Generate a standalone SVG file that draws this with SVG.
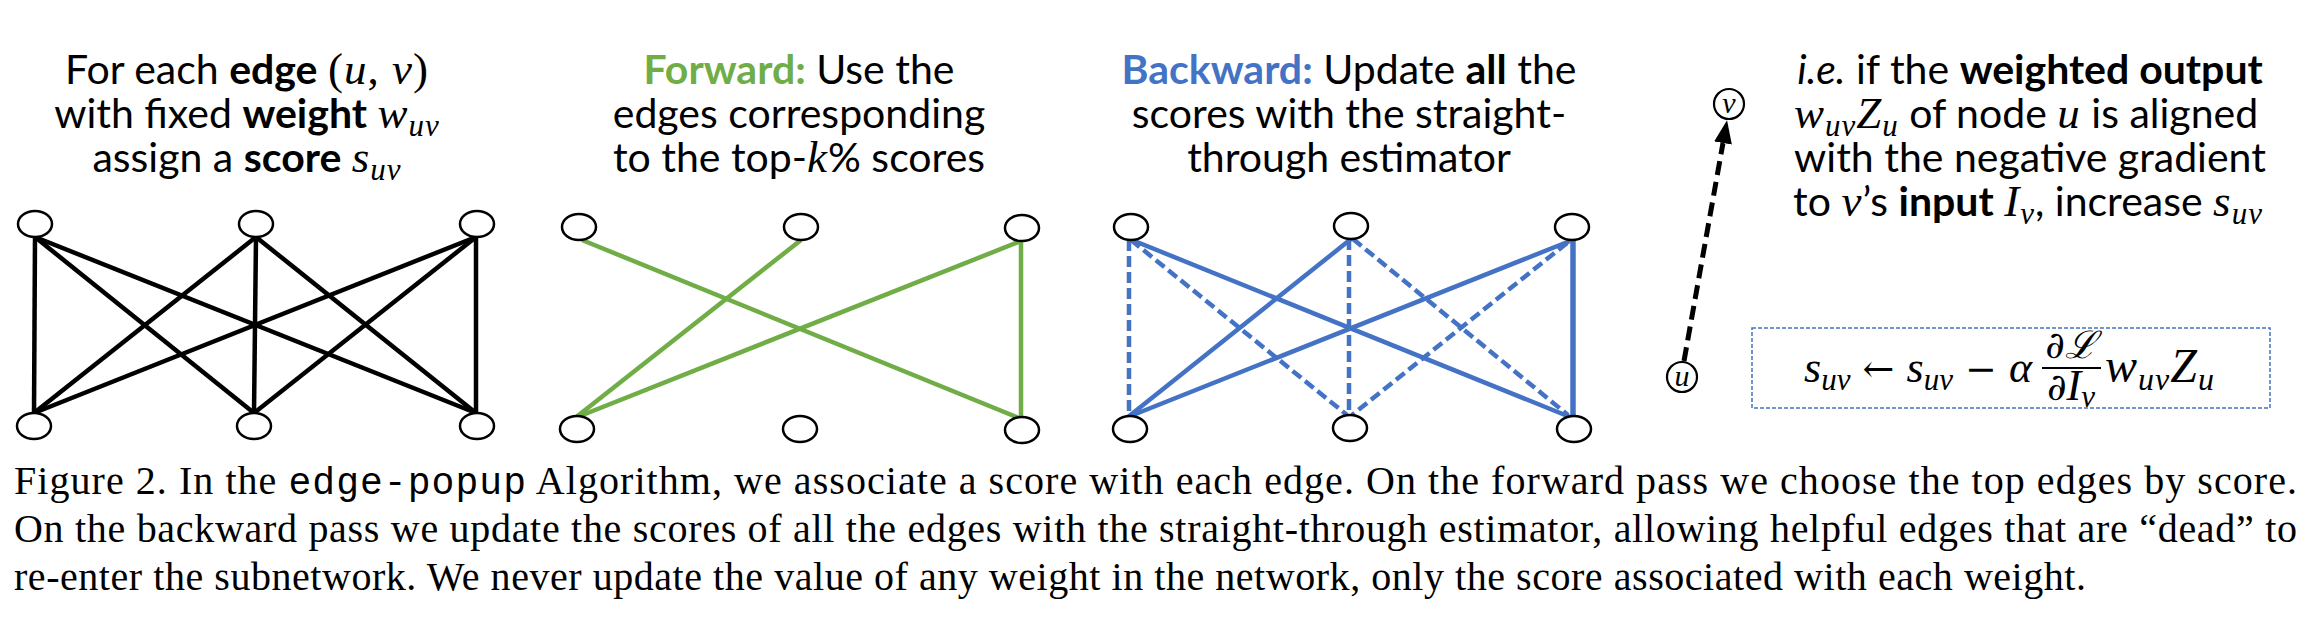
<svg xmlns="http://www.w3.org/2000/svg" width="2318" height="630" viewBox="0 0 2318 630">
<style>
.t{font-family:Lato,"Open Sans",sans-serif;font-size:41px;text-anchor:middle;fill:#000}
.b{font-weight:bold}
.i{font-style:italic}
.m{font-family:"Liberation Serif","DejaVu Serif",serif;font-style:italic;font-size:45px;letter-spacing:1px}
.up{font-style:normal}
.sub{font-size:31px}
.n{fill:#fff;stroke:#000;stroke-width:2.5}
.k{stroke:#000;stroke-width:4.5;fill:none}
.g{stroke:#70AD47;stroke-width:4.5;fill:none}
.bl{stroke:#4472C4;stroke-width:4.5;fill:none}
.d{stroke-dasharray:11 5}
.cap{font-family:"Liberation Serif","Times New Roman",serif;font-size:40px;fill:#000}
.mono{font-family:"Liberation Mono","DejaVu Sans Mono",monospace;font-size:38px}
.f{font-family:"Liberation Serif","DejaVu Serif",serif;font-style:italic;font-size:44px;fill:#000}
.fu{font-family:"DejaVu Serif","Liberation Serif",serif;font-style:normal;font-size:38px}
.nl{font-family:"Liberation Serif","DejaVu Serif",serif;font-style:italic;font-size:30px;text-anchor:middle;fill:#000}
</style>
<defs>
<marker id="ah" markerUnits="userSpaceOnUse" viewBox="0 -10 24 20" refX="0" refY="0" markerWidth="24" markerHeight="20" orient="auto">
<path d="M0,-9 L23,0 L0,9 Z" fill="#000"/>
</marker>
</defs>
<rect width="2318" height="630" fill="#fff"/>

<g id="connectors">
<!-- panel 1 -->
<line class="k" x1="35" y1="237" x2="34" y2="413"/>
<line class="k" x1="35" y1="237" x2="254" y2="413"/>
<line class="k" x1="35" y1="237" x2="476" y2="413"/>
<line class="k" x1="256" y1="237" x2="34" y2="413"/>
<line class="k" x1="256" y1="237" x2="254" y2="413"/>
<line class="k" x1="256" y1="237" x2="476" y2="413"/>
<line class="k" x1="476" y1="237" x2="34" y2="413"/>
<line class="k" x1="476" y1="237" x2="254" y2="413"/>
<line class="k" x1="476" y1="237" x2="476" y2="413"/>
<!-- panel 2 -->
<line class="g" x1="582" y1="240" x2="1019" y2="418"/>
<line class="g" x1="801" y1="240" x2="575" y2="418"/>
<line class="g" x1="1021" y1="241" x2="575" y2="418"/>
<line class="g" x1="1021" y1="241" x2="1021" y2="418"/>
<!-- panel 3 -->
<line class="bl" x1="1132" y1="240" x2="1570" y2="417"/>
<line class="bl" x1="1351" y1="239" x2="1128" y2="417"/>
<line class="bl" x1="1570" y1="241" x2="1128" y2="417"/>
<line class="bl" x1="1573" y1="241" x2="1573" y2="417" style="stroke-width:5.5"/>
<line class="bl d" x1="1129" y1="240" x2="1129" y2="416"/>
<line class="bl d" x1="1131" y1="240" x2="1347" y2="415"/>
<line class="bl d" x1="1349" y1="239" x2="1349" y2="415"/>
<line class="bl d" x1="1353" y1="239" x2="1568" y2="415"/>
<line class="bl d" x1="1567" y1="243" x2="1352" y2="415"/>
<!-- panel 4 arrow u -> v -->
<line x1="1684" y1="361" x2="1723" y2="143" stroke="#000" stroke-width="5" stroke-dasharray="14 7" marker-end="url(#ah)"/>
</g>

<g id="panel1-nodes">
<ellipse class="n" cx="35" cy="224" rx="17" ry="13"/>
<ellipse class="n" cx="256" cy="224" rx="17" ry="13"/>
<ellipse class="n" cx="477" cy="224" rx="17" ry="13"/>
<ellipse class="n" cx="34" cy="426" rx="17" ry="13"/>
<ellipse class="n" cx="254" cy="426" rx="17" ry="13"/>
<ellipse class="n" cx="477" cy="426" rx="17" ry="13"/>
</g>
<g id="panel2-nodes">
<ellipse class="n" cx="579" cy="227" rx="17" ry="13"/>
<ellipse class="n" cx="801" cy="227" rx="17" ry="13"/>
<ellipse class="n" cx="1022" cy="228" rx="17" ry="13"/>
<ellipse class="n" cx="577" cy="429" rx="17" ry="13"/>
<ellipse class="n" cx="800" cy="429" rx="17" ry="13"/>
<ellipse class="n" cx="1022" cy="430" rx="17" ry="13"/>
</g>
<g id="panel3-nodes">
<ellipse class="n" cx="1131" cy="227" rx="17" ry="13"/>
<ellipse class="n" cx="1351" cy="226" rx="17" ry="13"/>
<ellipse class="n" cx="1572" cy="227" rx="17" ry="13"/>
<ellipse class="n" cx="1130" cy="429" rx="17" ry="13"/>
<ellipse class="n" cx="1350" cy="428" rx="17" ry="13"/>
<ellipse class="n" cx="1574" cy="429" rx="17" ry="13"/>
</g>
<g id="node-v">
<circle cx="1729" cy="104" r="15" fill="#fff" stroke="#000" stroke-width="2.2"/>
<text x="1729" y="113" class="nl">v</text>
</g>
<g id="node-u">
<circle cx="1682" cy="377" r="15" fill="#fff" stroke="#000" stroke-width="2.2"/>
<text x="1682" y="386" class="nl">u</text>
</g>

<g id="text-panel1">
<text class="t" x="247" y="84">For each <tspan class="b">edge</tspan> <tspan class="m up">(</tspan><tspan class="m">u</tspan><tspan class="m up">, </tspan><tspan class="m">v</tspan><tspan class="m up">)</tspan></text>
<text class="t" x="247" y="128">with fixed <tspan class="b">weight</tspan> <tspan class="m">w</tspan><tspan class="m sub" dy="8">uv</tspan></text>
<text class="t" x="247" y="172">assign a <tspan class="b">score</tspan> <tspan class="m">s</tspan><tspan class="m sub" dy="8">uv</tspan></text>
</g>
<g id="text-panel2">
<text class="t" x="799" y="84"><tspan class="b" fill="#70AD47">Forward:</tspan> Use the</text>
<text class="t" x="799" y="128">edges corresponding</text>
<text class="t" x="799" y="172">to the top-<tspan class="m">k</tspan>% scores</text>
</g>
<g id="text-panel3">
<text class="t" x="1349" y="84"><tspan class="b" fill="#4472C4">Backward:</tspan> Update <tspan class="b">all</tspan> the</text>
<text class="t" x="1349" y="128">scores with the straight-</text>
<text class="t" x="1349" y="172">through estimator</text>
</g>
<g id="text-panel4">
<text class="t" x="2030" y="84"><tspan class="i">i.e.</tspan> if the <tspan class="b">weighted output</tspan></text>
<text class="t" x="2026" y="128"><tspan class="m">w</tspan><tspan class="m sub" dy="8">uv</tspan><tspan class="m" dy="-8">Z</tspan><tspan class="m sub" dy="8">u</tspan><tspan dy="-8"> of node </tspan><tspan class="m">u</tspan> is aligned</text>
<text class="t" x="2030" y="172">with the negative gradient</text>
<text class="t" x="2028" y="216">to <tspan class="m">v</tspan>’s <tspan class="b">input</tspan> <tspan class="m">I</tspan><tspan class="m sub" dy="8">v</tspan><tspan dy="-8">, increase </tspan><tspan class="m">s</tspan><tspan class="m sub" dy="8">uv</tspan></text>
</g>

<g id="formula">
<rect x="1752" y="328" width="518" height="80" fill="none" stroke="#4472C4" stroke-width="1.5" stroke-dasharray="4 2"/>
<text class="f" x="2032" y="382" text-anchor="end">s<tspan class="sub" dy="8">uv</tspan><tspan class="fu" dy="-8"> ← </tspan>s<tspan class="sub" dy="8">uv</tspan><tspan class="fu" dy="-8"> − </tspan>α</text>
<text class="f" x="2071" y="358" text-anchor="middle"><tspan class="fu" style="font-style:italic">∂ℒ</tspan></text>
<line x1="2042" y1="368" x2="2101" y2="368" stroke="#000" stroke-width="2.2"/>
<text class="f" x="2071" y="400" text-anchor="middle"><tspan class="fu" style="font-style:italic">∂</tspan>I<tspan class="sub" dy="7">v</tspan></text>
<text class="f" x="2105" y="382" style="font-size:48px;letter-spacing:1px">w<tspan class="sub" style="font-size:32px" dy="8">uv</tspan><tspan dy="-8">Z</tspan><tspan class="sub" style="font-size:32px" dy="8">u</tspan></text>
</g>

<g id="caption">
<text class="cap" x="14" y="494" textLength="2283">Figure 2. In the <tspan class="mono">edge-popup</tspan> Algorithm, we associate a score with each edge.  On the forward pass we choose the top edges by score.</text>
<text class="cap" x="14" y="542" textLength="2283">On the backward pass we update the scores of all the edges with the straight-through estimator, allowing helpful edges that are “dead” to</text>
<text class="cap" x="14" y="590" textLength="2072">re-enter the subnetwork. We never update the value of any weight in the network, only the score associated with each weight.</text>
</g>
</svg>
